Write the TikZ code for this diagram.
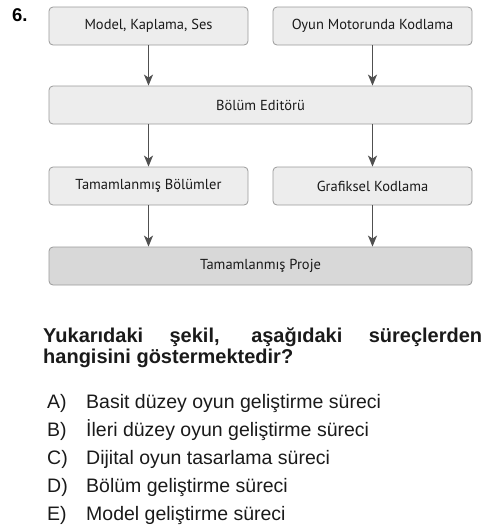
\documentclass[tikz,border=0pt]{standalone}
\usepackage{fontspec}
\setmainfont{Liberation Sans}
\newfontfamily\boxfont{PT Sans}
\usetikzlibrary{arrows.meta}
\definecolor{boxfill}{HTML}{EDEDED}
\definecolor{projfill}{HTML}{D8D8D8}
\definecolor{boxline}{HTML}{9A9A9A}
\definecolor{arrowcol}{HTML}{505050}
\definecolor{txt}{HTML}{1A1A1A}
\tikzset{
  flowbox/.style={draw=boxline, line width=0.8pt, fill=boxfill, rounded corners=4pt,
    minimum height=38pt, inner sep=0pt, font=\boxfont\fontsize{14.5}{17}\selectfont, text=txt},
  projbox/.style={flowbox, fill=projfill},
  flow/.style={draw=arrowcol, line width=1.4pt, -{Stealth[length=11pt,width=9pt,inset=3pt]}},
  optlabel/.style={anchor=base west, inner sep=0pt, font=\fontsize{19.5}{22}\selectfont, text=txt},
}
\begin{document}
\begin{tikzpicture}[x=1pt,y=-1pt]
\useasboundingbox (0,0) rectangle (500,528);
\node[anchor=base west, inner sep=0pt, font=\bfseries\fontsize{18.5}{22}\selectfont, text=black] (num) at (12,21) {6.};
\node[flowbox, minimum width=199pt] (mks) at (148.5,26) {Model, Kaplama, Ses};
\node[flowbox, minimum width=199pt] (omk) at (372.5,26) {Oyun Motorunda Kodlama};
\node[flowbox, minimum width=423pt] (be) at (260.5,105) {Bölüm Editörü};
\node[flowbox, minimum width=199pt] (tb) at (148.5,186) {Tamamlanmış Bölümler};
\node[flowbox, minimum width=199pt] (gk) at (372.5,186) {Grafiksel Kodlama};
\node[projbox, minimum width=423pt] (tp) at (260.5,266) {Tamamlanmış Proje};
\draw[flow] (mks.south) -- (mks.south |- be.north);
\draw[flow] (omk.south) -- (omk.south |- be.north);
\draw[flow] (be.south -| tb.north) -- (tb.north);
\draw[flow] (be.south -| gk.north) -- (gk.north);
\draw[flow] (tb.south) -- (tb.south |- tp.north);
\draw[flow] (gk.south) -- (gk.south |- tp.north);
\node[anchor=base west, inner sep=0pt, text width=439pt, align=justify, text=txt,
  font=\bfseries\fontsize{20}{21.5}\selectfont] (q) at (43,342) {Yukarıdaki şekil, aşağıdaki süreçlerden hangisini göstermektedir?};
\node[optlabel] (la) at (47,408) {A)};
\node[optlabel] (ta) at (86,408) {Basit düzey oyun geliştirme süreci};
\node[optlabel] (lb) at (47,436) {B)};
\node[optlabel] (tb2) at (86,436) {İleri düzey oyun geliştirme süreci};
\node[optlabel] (lc) at (47,464) {C)};
\node[optlabel] (tc) at (86,464) {Dijital oyun tasarlama süreci};
\node[optlabel] (ld) at (47,492) {D)};
\node[optlabel] (td) at (86,492) {Bölüm geliştirme süreci};
\node[optlabel] (le) at (47,520) {E)};
\node[optlabel] (te) at (86,520) {Model geliştirme süreci};
\end{tikzpicture}
\end{document}
